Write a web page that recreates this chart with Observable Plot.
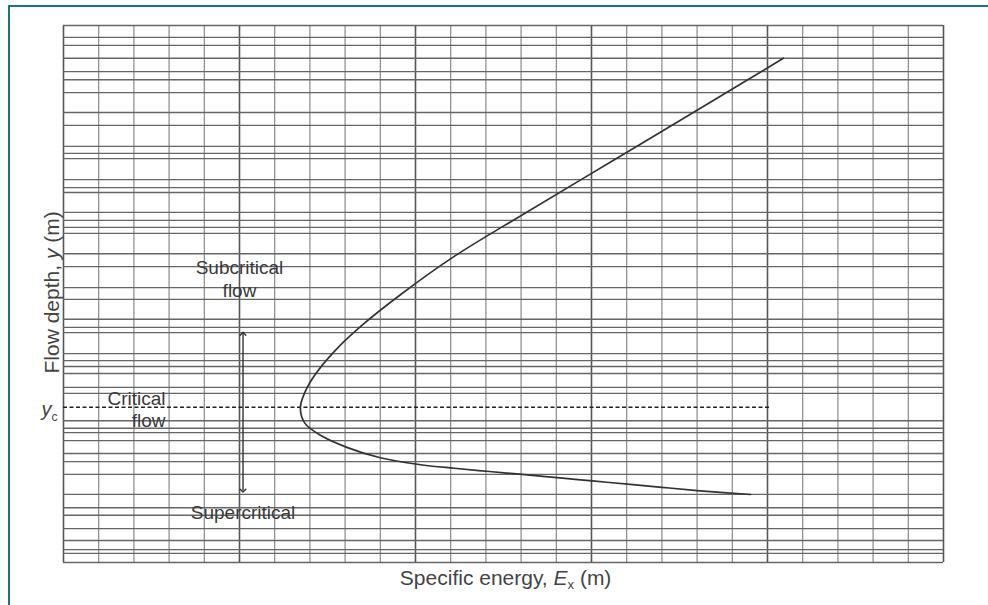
<!DOCTYPE html>
<html>
<head>
<meta charset="utf-8">
<script src="https://cdn.jsdelivr.net/npm/d3@7"></script>
<script src="https://cdn.jsdelivr.net/npm/@observablehq/plot@0.6"></script>
<style>
  html, body { margin: 0; padding: 0; background: #fff; }
  #wrap { position: relative; width: 988px; height: 605px; overflow: hidden; }
  #frame { position: absolute; left: 8px; top: 5px; right: -10px; bottom: -10px;
           border-top: 2px solid #1f7483; border-left: 2px solid #1f7483; pointer-events: none; }
  svg { font-family: "Liberation Sans", Arial, sans-serif; }
</style>
</head>
<body>
<div id="wrap"><div id="frame"></div></div>
<script>
// Vertical grid (specific energy units)
const xGridMinor = [0,1,2,3,4,5,6,7,8,9,10,11,12,13,14,15,16,17,18,19,20,21,22,23,24,25];
const xGridMajor = [0,5,10,15,20,25];
// Horizontal grid (flow depth units, irregular as in the printed graph paper)
const yGrid = [100,97.8,96.3,93.9,91.4,89.9,87.5,83.8,81.4,77.5,76.2,75.2,71.3,69.8,68.9,
               65.2,63.7,62.4,61.3,57.5,55.1,51.2,49.0,45.3,43.8,42.8,38.9,37.6,36.5,35.2,
               32.6,31.5,26.4,25.0,24.2,22.7,20.3,18.8,16.4,12.7,10.2,8.8,6.3,4.1,2.4,1.7,0];
// Critical depth
const yCritical = 28.9;
const criticalExtent = [0, 20.1];
// Specific energy curve E (x) versus depth y (upper branch, nose, lower branch)
const curveE = [20.45,18.2,15.65,13.1,11.1,9.6,8.45,7.65,7.15,6.88,6.73,
                6.85,7.3,8.07,9.0,10.1,11.1,12.1,13.1,14.1,15.1,16.1,17.0,18.0,19.52];
const curveY = [93.9,85.0,75.0,65.0,57.0,50.0,44.0,39.0,35.0,32.0,28.9,
                26.0,23.7,21.4,19.5,18.25,17.55,16.95,16.35,15.75,15.15,14.55,14.0,13.4,12.66];
const curve = curveE.map((e, i) => ({E: e, y: curveY[i]}));
// Flow regime arrow
const arrowE = 5.1;
const arrowRange = [42.6, 13.4];

const labels = [
  {text: "Subcritical", x: 5.0, y: 54.9, anchor: "middle"},
  {text: "flow", x: 5.0, y: 50.6, anchor: "middle"},
  {text: "Critical", x: 2.9, y: 30.4, anchor: "end"},
  {text: "flow", x: 2.9, y: 26.3, anchor: "end"},
  {text: "Supercritical", x: 5.1, y: 9.3, anchor: "middle"}
];

const chart = Plot.plot({
  width: 988,
  height: 605,
  marginLeft: 63,
  marginRight: 45,
  marginTop: 25,
  marginBottom: 43,
  x: {domain: [0, 25], axis: null},
  y: {domain: [0, 100], axis: null},
  style: {background: "transparent", fontFamily: "Liberation Sans, Arial, sans-serif"},
  marks: [
    Plot.ruleX(xGridMinor, {stroke: "#8a8a8a", strokeWidth: 1.2}),
    Plot.ruleX(xGridMajor, {stroke: "#555", strokeWidth: 1.5}),
    Plot.ruleY(yGrid, {stroke: "#666", strokeWidth: 1.3}),
    Plot.ruleY([yCritical], {x1: criticalExtent[0], x2: criticalExtent[1], stroke: "#222", strokeWidth: 1.5, strokeDasharray: "4,2.5"}),
    Plot.link([{a: arrowRange[0], b: arrowRange[1]}], {x1: arrowE, x2: arrowE, y1: "a", y2: "b",
      stroke: "#333", strokeWidth: 1.4, markerStart: "arrow-reverse", markerEnd: "arrow"}),
    Plot.line(curve, {x: "E", y: "y", curve: "catmull-rom", stroke: "#333", strokeWidth: 1.7}),
    Plot.text(labels.filter(d => d.anchor === "middle"), {x: "x", y: "y", text: "text", textAnchor: "middle",
      fontSize: 19, fill: "#3a3a3a"}),
    Plot.text(labels.filter(d => d.anchor === "end"), {x: "x", y: "y", text: "text", textAnchor: "end",
      fontSize: 19, fill: "#3a3a3a"}),
    Plot.text(["yc"], {x: -0.17, y: 28.4, textAnchor: "end", fontSize: 20, fill: "#444"}),
    Plot.text(["Flow depth, y (m)"], {x: -0.33, y: 50.3, rotate: -90, textAnchor: "middle", fontSize: 21, fill: "#444"}),
    Plot.text(["Specific energy, Ex (m)"], {x: 12.56, y: -3.0, textAnchor: "middle", fontSize: 21, fill: "#444"})
  ]
});

document.getElementById("wrap").prepend(chart);

// Rich text: italics and subscripts
d3.select(chart).selectAll("text").each(function() {
  const t = this.textContent;
  const sel = d3.select(this);
  if (t === "yc") {
    sel.text(null);
    sel.append("tspan").attr("font-style", "italic").text("y");
    sel.append("tspan").attr("font-size", 12).attr("dy", 5).text("c");
  } else if (t === "Flow depth, y (m)") {
    sel.text(null);
    sel.append("tspan").text("Flow depth, ");
    sel.append("tspan").attr("font-style", "italic").text("y");
    sel.append("tspan").text(" (m)");
  } else if (t === "Specific energy, Ex (m)") {
    sel.text(null);
    sel.append("tspan").text("Specific energy, ");
    sel.append("tspan").attr("font-style", "italic").text("E");
    sel.append("tspan").attr("font-size", 13).attr("dy", 4).text("x");
    sel.append("tspan").attr("dy", -4).text(" (m)");
  }
});
</script>
</body>
</html>
